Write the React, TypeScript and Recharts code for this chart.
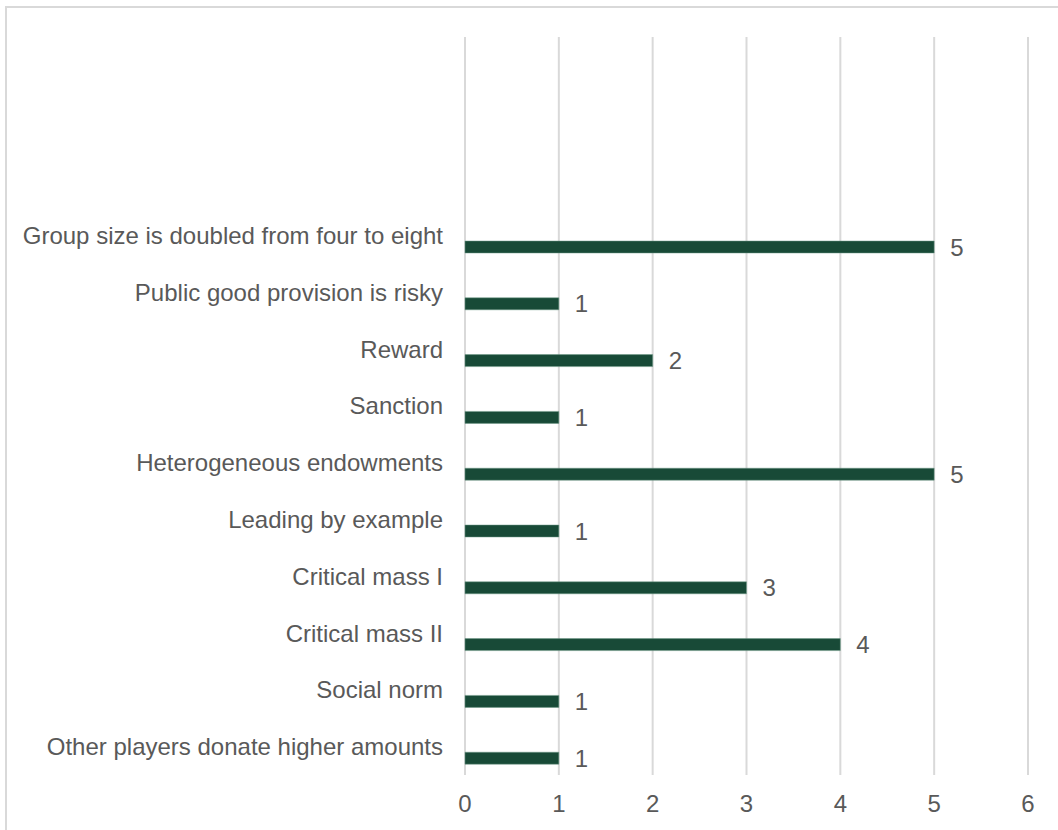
import React from "react";
import {
  BarChart,
  Bar,
  XAxis,
  YAxis,
  CartesianGrid,
  LabelList,
  Rectangle,
} from "recharts";

// categories top -> bottom
const categories = [
  "Group size is doubled from four to eight",
  "Public good provision is risky",
  "Reward",
  "Sanction",
  "Heterogeneous endowments",
  "Leading by example",
  "Critical mass I",
  "Critical mass II",
  "Social norm",
  "Other players donate higher amounts",
];

const counts = [5, 1, 2, 1, 5, 1, 3, 4, 1, 1];

const xTicks = [0, 1, 2, 3, 4, 5, 6];

const data = categories.map((name, i) => ({ name, count: counts[i] }));

const FONT = "'Liberation Sans', Arial, sans-serif";
const TEXT = "#595959";
const BAR = "#184a37";
const FS = 24;
// bars sit a little below the band centre (as in the source, where the series is last in its cluster)
const SHIFT = 12;

function ShiftedBar(props: any) {
  return <Rectangle {...props} y={props.y + SHIFT} />;
}

function ValueLabel(props: any) {
  const { x, y, width, height, value } = props;
  return (
    <text
      x={x + width + 16}
      y={y + height / 2 + SHIFT}
      dy="0.355em"
      textAnchor="start"
      fill={TEXT}
      fontSize={FS}
      fontFamily={FONT}
    >
      {value}
    </text>
  );
}

export default function App() {
  return (
    <div
      style={{
        position: "absolute",
        left: 0,
        top: 0,
        width: 1058,
        height: 830,
        overflow: "hidden",
        background: "#fff",
      }}
    >
      <div
        style={{
          position: "absolute",
          left: 5,
          top: 6,
          width: 1100,
          height: 900,
          border: "2px solid #d9d9d9",
        }}
      />
      <div style={{ position: "absolute", left: 0, top: 0 }}>
        <BarChart
          width={1058}
          height={830}
          data={data}
          layout="vertical"
          margin={{ top: 37, right: 30, bottom: 0, left: 0 }}
          barSize={12}
        >
          <CartesianGrid
            horizontal={false}
            stroke="#d9d9d9"
            strokeWidth={2}
          />
          <XAxis
            type="number"
            domain={[0, 6]}
            ticks={xTicks}
            axisLine={false}
            tickLine={false}
            tickSize={6}
            tickMargin={14}
            height={55}
            tick={{ fill: TEXT, fontSize: FS, fontFamily: FONT }}
          />
          <YAxis
            type="category"
            dataKey="name"
            width={465}
            padding={{ top: 170, bottom: 0 }}
            axisLine={false}
            tickLine={false}
            tickSize={6}
            tickMargin={16}
            interval={0}
            tick={{ fill: TEXT, fontSize: FS, fontFamily: FONT }}
          />
          <Bar
            dataKey="count"
            fill={BAR}
            stroke="#6f9a88"
            strokeWidth={0.5}
            shape={ShiftedBar}
            isAnimationActive={false}
          >
            <LabelList dataKey="count" content={ValueLabel} />
          </Bar>
        </BarChart>
      </div>
    </div>
  );
}
